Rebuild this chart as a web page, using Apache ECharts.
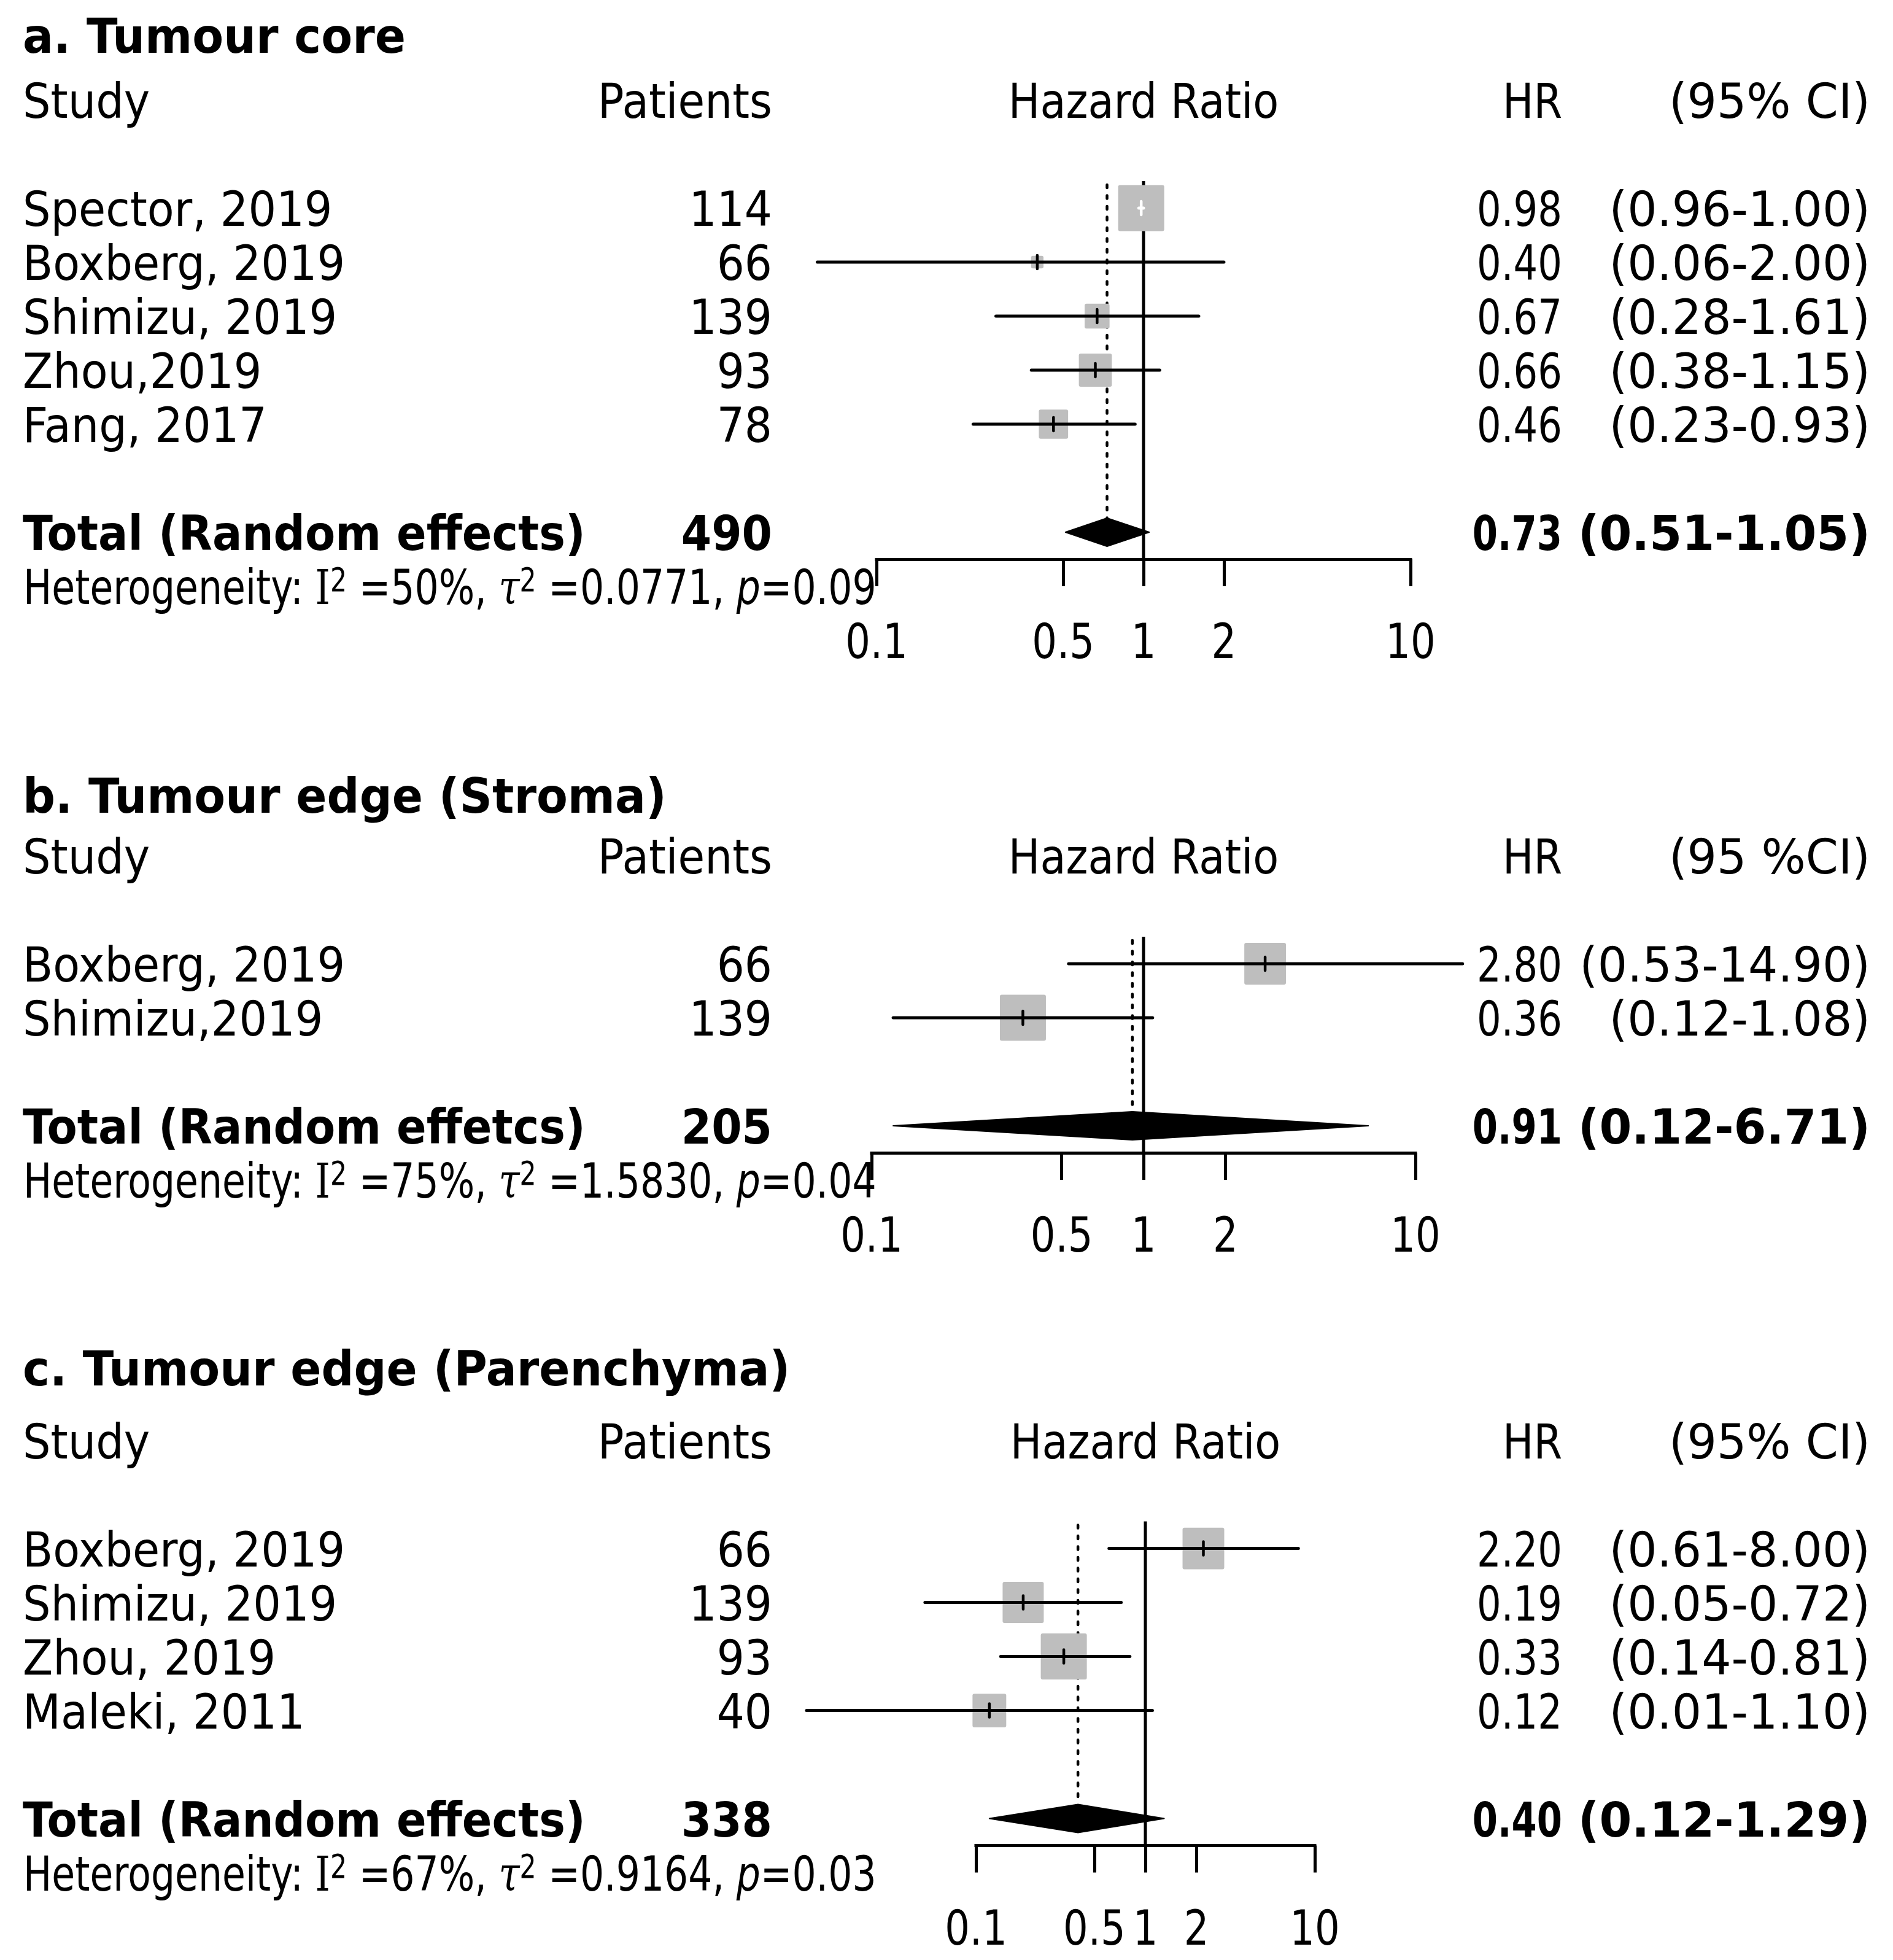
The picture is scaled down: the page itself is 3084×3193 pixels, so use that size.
<!DOCTYPE html>
<html>
<head>
<meta charset="utf-8">
<script src="https://cdn.jsdelivr.net/npm/echarts@6/dist/echarts.min.js"></script>
<style>
html, body { margin: 0; padding: 0; background: #ffffff; }
#chart { width: 3084px; height: 3193px; }
</style>
</head>
<body>
<div id="chart"></div>
<script>
// ---------------- data ----------------
const panelTitles = ['a. Tumour core', 'b. Tumour edge (Stroma)', 'c. Tumour edge (Parenchyma)'];
const ciHeaders = ['(95% CI)', '(95 %CI)', '(95% CI)'];
const totalLabels = ['Total (Random effects)', 'Total (Random effetcs)', 'Total (Random effects)'];

// a. Tumour core
const studiesA = ['Spector, 2019', 'Boxberg, 2019', 'Shimizu, 2019', 'Zhou,2019', 'Fang, 2017'];
const patientsA = [114, 66, 139, 93, 78];
const hrA = [0.98, 0.40, 0.67, 0.66, 0.46];
const lowerA = [0.96, 0.06, 0.28, 0.38, 0.23];
const upperA = [1.00, 2.00, 1.61, 1.15, 0.93];
const weightA = [43.8, 3.2, 12.8, 22.5, 17.7];
const totalPatientsA = 490;
const pooledA = [0.73, 0.51, 1.05];
const hetA = ['50%', '0.0771', '0.09'];

// b. Tumour edge (Stroma)
const studiesB = ['Boxberg, 2019', 'Shimizu,2019'];
const patientsB = [66, 139];
const hrB = [2.80, 0.36];
const lowerB = [0.53, 0.12];
const upperB = [14.90, 1.08];
const weightB = [45.0, 55.0];
const totalPatientsB = 205;
const pooledB = [0.91, 0.12, 6.71];
const hetB = ['75%', '1.5830', '0.04'];

// c. Tumour edge (Parenchyma)
const studiesC = ['Boxberg, 2019', 'Shimizu, 2019', 'Zhou, 2019', 'Maleki, 2011'];
const patientsC = [66, 139, 93, 40];
const hrC = [2.20, 0.19, 0.33, 0.12];
const lowerC = [0.61, 0.05, 0.14, 0.01];
const upperC = [8.00, 0.72, 0.81, 1.10];
const weightC = [26.0, 25.3, 31.7, 17.0];
const totalPatientsC = 338;
const pooledC = [0.40, 0.12, 1.29];
const hetC = ['67%', '0.9164', '0.03'];

// axis ticks
const tickValues = [0.1, 0.5, 1, 2, 10];
const tickLabels = ['0.1', '0.5', '1', '2', '10'];

// ---------------- layout & style ----------------
const FONT = 'DejaVu Sans';
const FS = 78;
const TY = 9;            // vertical text offset so glyph centres sit on the rows
const BOX_MAX = 75;
const BOX_COLOR = '#bebebe';
const LW = 5;
const layout = [
  { row0: 339, rowH: 88, left: 1428, right: 2298, titleY: 57 },
  { row0: 1570, rowH: 88, left: 1420, right: 2306, titleY: 1295 },
  { row0: 2522.6, rowH: 88, left: 1590, right: 2142, titleY: 2228 }
];
const colStudy = 37, colPatients = 1258, colHR = 2545, colCI = 3047;
const SC = { title: 0.95, study: 0.92, patients: 0.91, hazard: 0.88, hrHead: 0.86, hr: 0.80, hrBold: 0.76, ci: 0.975, het: 0.79, tick: 0.82 };

const panels = [
  { studies: studiesA, patients: patientsA, hr: hrA, lower: lowerA, upper: upperA, weight: weightA, totalPatients: totalPatientsA, pooled: pooledA, het: hetA },
  { studies: studiesB, patients: patientsB, hr: hrB, lower: lowerB, upper: upperB, weight: weightB, totalPatients: totalPatientsB, pooled: pooledB, het: hetB },
  { studies: studiesC, patients: patientsC, hr: hrC, lower: lowerC, upper: upperC, weight: weightC, totalPatients: totalPatientsC, pooled: pooledC, het: hetC }
];

const lg = Math.log10;
const fmt2 = v => v.toFixed(2);
const ciText = (lo, hi) => '(' + fmt2(lo) + '-' + fmt2(hi) + ')';

function txt(x, y, text, align, sx, bold) {
  return {
    type: 'text', x: x, y: y + TY, scaleX: sx,
    style: {
      text: text, x: 0, y: 0, align: align, verticalAlign: 'middle',
      fontSize: FS, fontFamily: FONT, fontWeight: bold ? 'bold' : 'normal', fill: '#000'
    }
  };
}

const grids = [], xAxes = [], yAxes = [], series = [];

panels.forEach((P, i) => {
  const L = layout[i];
  const n = P.studies.length;
  const totalRow = n + 1;
  const wMax = Math.max.apply(null, P.weight);

  grids.push({
    left: L.left, width: L.right - L.left,
    top: L.row0 - 0.5 * L.rowH, height: (n + 2) * L.rowH,
    containLabel: false, outerBoundsMode: 'none'
  });
  xAxes.push({
    gridIndex: i, type: 'value', min: -1, max: 1, position: 'bottom',
    axisLine: { show: true, onZero: false, lineStyle: { color: '#000', width: LW, cap: 'square' } },
    axisTick: { show: true, inside: false, length: 44, customValues: tickValues.map(lg), lineStyle: { color: '#000', width: LW } },
    axisLabel: { show: false },
    splitLine: { show: false }
  });
  yAxes.push({ gridIndex: i, type: 'value', inverse: true, min: -0.5, max: n + 1.5, show: false });

  // reference lines: no effect (HR = 1) and pooled estimate (dotted)
  series.push({
    type: 'custom', coordinateSystem: 'cartesian2d', xAxisIndex: i, yAxisIndex: i,
    clip: false, silent: true,
    data: [[0, -0.5, lg(P.pooled[0])]],
    renderItem: function (params, api) {
      const top = api.coord([0, -0.5]);
      const bot = api.coord([0, n + 1.5]);
      const dTop = api.coord([api.value(2), -0.5]);
      const dBot = api.coord([api.value(2), totalRow]);
      return {
        type: 'group', children: [
          { type: 'line', shape: { x1: top[0], y1: top[1], x2: bot[0], y2: bot[1] }, style: { stroke: '#000', lineWidth: LW } },
          { type: 'line', shape: { x1: dTop[0], y1: dTop[1] + 6, x2: dBot[0], y2: dBot[1] - 23 }, style: { stroke: '#000', lineWidth: 4.5, lineDash: [5, 12.5], lineCap: 'round' } }
        ]
      };
    }
  });

  // study boxes + confidence intervals
  series.push({
    type: 'custom', coordinateSystem: 'cartesian2d', xAxisIndex: i, yAxisIndex: i,
    clip: false, silent: true,
    data: P.studies.map((s, j) => [lg(P.hr[j]), j, lg(P.lower[j]), lg(P.upper[j]), P.weight[j]]),
    renderItem: function (params, api) {
      const row = api.value(1);
      const p = api.coord([api.value(0), row]);
      const pl = api.coord([api.value(2), row]);
      const ph = api.coord([api.value(3), row]);
      const side = BOX_MAX * Math.sqrt(api.value(4) / wMax);
      const half = side / 2;
      const inside = (p[0] - pl[0] <= half) && (ph[0] - p[0] <= half);
      const col = inside ? '#ffffff' : '#000000';
      return {
        type: 'group', children: [
          { type: 'rect', shape: { x: p[0] - half, y: p[1] - half, width: side, height: side, r: 3 }, style: { fill: BOX_COLOR } },
          { type: 'line', shape: { x1: pl[0], y1: p[1], x2: ph[0], y2: p[1] }, style: { stroke: col, lineWidth: 5, lineCap: 'round' } },
          { type: 'line', shape: { x1: p[0], y1: p[1] - 11, x2: p[0], y2: p[1] + 11 }, style: { stroke: col, lineWidth: 4.5, lineCap: 'round' } }
        ]
      };
    }
  });

  // pooled diamond
  series.push({
    type: 'custom', coordinateSystem: 'cartesian2d', xAxisIndex: i, yAxisIndex: i,
    clip: false, silent: true,
    data: [[lg(P.pooled[0]), totalRow, lg(P.pooled[1]), lg(P.pooled[2])]],
    renderItem: function (params, api) {
      const row = api.value(1);
      const c = api.coord([api.value(0), row]);
      const lo = api.coord([api.value(2), row]);
      const hi = api.coord([api.value(3), row]);
      const h = 23;
      return {
        type: 'polygon',
        shape: { points: [[lo[0], c[1]], [c[0], c[1] - h], [hi[0], c[1]], [c[0], c[1] + h]] },
        style: { fill: '#000', stroke: '#000', lineWidth: 2, lineJoin: 'round' }
      };
    }
  });

  // tick labels
  series.push({
    type: 'custom', coordinateSystem: 'cartesian2d', xAxisIndex: i, yAxisIndex: i,
    clip: false, silent: true,
    data: tickValues.map((v, k) => [lg(v), n + 3, k]),
    renderItem: function (params, api) {
      const pt = api.coord([api.value(0), api.value(1)]);
      return txt(pt[0], pt[1], tickLabels[api.value(2)], 'center', SC.tick, false);
    }
  });

  // table text: kind 0 header, 1 study, 2 total, 3 heterogeneity, 4 title
  const textData = [[0, -2, 0, 0], [0, -2, 4, 0]];
  P.studies.forEach((s, j) => textData.push([0, j, 1, j]));
  textData.push([0, totalRow, 2, 0]);
  textData.push([0, n + 2, 3, 0]);

  series.push({
    type: 'custom', coordinateSystem: 'cartesian2d', xAxisIndex: i, yAxisIndex: i,
    clip: false, silent: true,
    data: textData,
    renderItem: function (params, api) {
      const row = api.value(1), kind = api.value(2), j = api.value(3);
      const pt = api.coord([0, row]);
      const y = pt[1];
      let ch = [];
      if (kind === 4) {
        ch = [txt(colStudy, L.titleY, panelTitles[i], 'left', SC.title, true)];
      } else if (kind === 0) {
        ch = [
          txt(colStudy, y, 'Study', 'left', SC.study, false),
          txt(colPatients, y, 'Patients', 'right', SC.patients, false),
          txt(pt[0], y, 'Hazard Ratio', 'center', SC.hazard, false),
          txt(colHR, y, 'HR', 'right', SC.hrHead, false),
          txt(colCI, y, ciHeaders[i], 'right', SC.ci, false)
        ];
      } else if (kind === 1) {
        ch = [
          txt(colStudy, y, P.studies[j], 'left', SC.study, false),
          txt(colPatients, y, String(P.patients[j]), 'right', SC.patients, false),
          txt(colHR, y, fmt2(P.hr[j]), 'right', SC.hr, false),
          txt(colCI, y, ciText(P.lower[j], P.upper[j]), 'right', SC.ci, false)
        ];
      } else if (kind === 2) {
        ch = [
          txt(colStudy, y, totalLabels[i], 'left', SC.study, true),
          txt(colPatients, y, String(P.totalPatients), 'right', SC.patients, true),
          txt(colHR, y, fmt2(P.pooled[0]), 'right', SC.hrBold, true),
          txt(colCI, y, ciText(P.pooled[1], P.pooled[2]), 'right', SC.ci, true)
        ];
      } else if (kind === 3) {
        ch = [{
          type: 'text', x: colStudy + 1, y: y + TY, scaleX: SC.het,
          style: {
            x: 0, y: 0, align: 'left', verticalAlign: 'middle', fill: '#000',
            text: '{n|Heterogeneity: }{s|I}{u|2}{n| =' + P.het[0] + ', }{g|τ}{u|2}{n| =' + P.het[1] + ', }{i|p}{n|=' + P.het[2] + '}',
            rich: {
              n: { fontSize: FS, fontFamily: FONT, lineHeight: 84, fill: '#000' },
              s: { fontSize: FS, fontFamily: 'DejaVu Serif', lineHeight: 84, fill: '#000' },
              u: { fontSize: 54, fontFamily: FONT, lineHeight: 40, verticalAlign: 'top', fill: '#000' },
              g: { fontSize: FS, fontFamily: 'DejaVu Serif', fontStyle: 'italic', lineHeight: 84, fill: '#000' },
              i: { fontSize: FS, fontFamily: FONT, fontStyle: 'italic', lineHeight: 84, fill: '#000' }
            }
          }
        }];
      }
      return { type: 'group', children: ch };
    }
  });
});

const chart = echarts.init(document.getElementById('chart'), null, { renderer: 'canvas' });
chart.setOption({
  backgroundColor: '#ffffff',
  animation: false,
  grid: grids,
  xAxis: xAxes,
  yAxis: yAxes,
  series: series
});
</script>
</body>
</html>
